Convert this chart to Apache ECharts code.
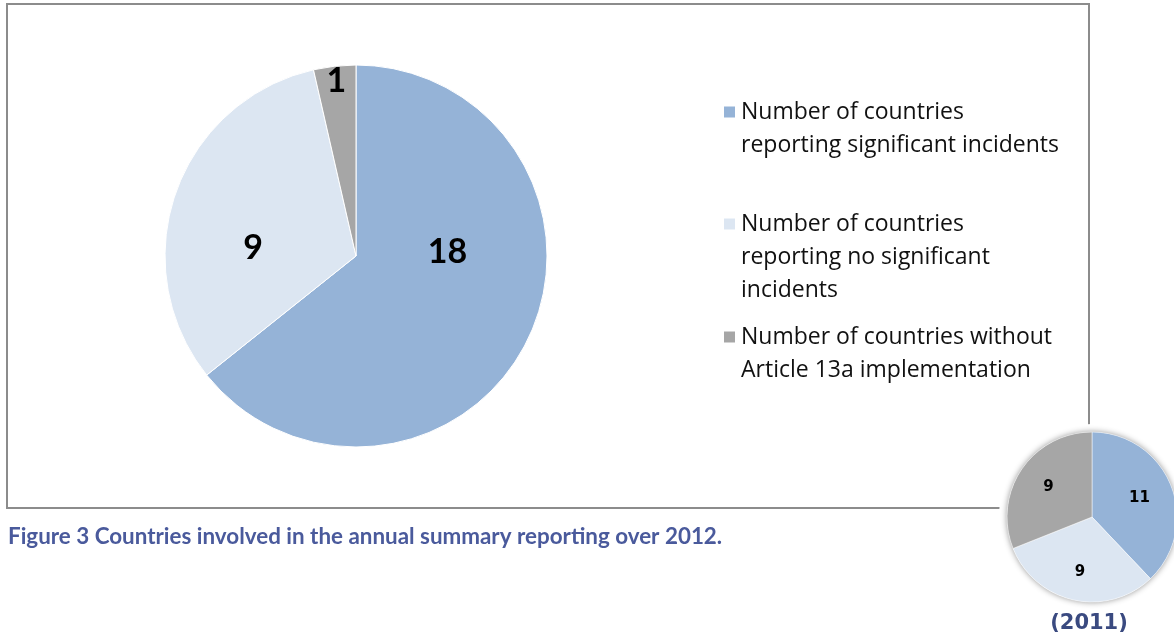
<!DOCTYPE html>
<html>
<head>
<meta charset="utf-8">
<title>Countries involved in the annual summary reporting</title>
<script src="https://cdn.jsdelivr.net/npm/echarts@6/dist/echarts.min.js"></script>
<style>
  html, body { margin: 0; padding: 0; background: #ffffff; }
  #chart { width: 1174px; height: 635px; }
</style>
</head>
<body>
<div id="chart"></div>
<script>
// Categories (legend entries, wrapped the way they are printed)
const categories = [
  'Number of countries\nreporting significant incidents',
  'Number of countries\nreporting no significant\nincidents',
  'Number of countries without\nArticle 13a implementation'
];
// Country counts, reporting year 2012
const values2012 = [18, 9, 1];
// Country counts, reporting year 2011
const values2011 = [11, 9, 9];

const captionText = 'Figure 3 Countries involved in the annual summary reporting over 2012.';
const insetTitle = '(2011)';

// Slice colours
const sliceColors = ['#95B3D7', '#DCE6F2', '#A6A6A6'];

// Layout
const MAIN_CENTER = [356, 256];
const MAIN_RADIUS = 191;
const INSET_CENTER = [1092, 517];
const INSET_RADIUS = 85;

// Label anchors for the large pie: angle measured clockwise from 12 o'clock
// (null = the slice's own mid angle) and distance as a fraction of the radius.
const mainLabelSpots = [
  { angle: 87.5, dist: 0.48 },
  { angle: 274.5, dist: 0.54 },
  { angle: null, dist: 0.92 }
];
const insetLabelDist = [0.6, 0.66, 0.62];

function midAngles(vals) {
  const total = vals.reduce((a, b) => a + b, 0);
  let acc = 0;
  return vals.map(v => {
    const m = (acc + v / 2) / total * 360;
    acc += v;
    return m;
  });
}

function spot(center, radius, angleDeg, dist) {
  const a = angleDeg * Math.PI / 180;
  return {
    x: center[0] + Math.sin(a) * radius * dist,
    y: center[1] - Math.cos(a) * radius * dist
  };
}

const mainMids = midAngles(values2012);
const insetMids = midAngles(values2011);

const LEGEND_FONT = 23;
const LEGEND_LINE = 33;
const legendFirstLine = [112, 224, 337];

// One legend block per entry so the swatch sits beside the first text line:
// the text is padded with blank lines above so its first line centres on the swatch.
const legends = categories.map((name, i) => {
  const n = name.split('\n').length;
  return {
    data: [name],
    orient: 'vertical',
    left: 722,
    top: legendFirstLine[i] - (2 * n - 1) * LEGEND_LINE / 2,
    padding: 0,
    itemWidth: 13,
    itemHeight: 13,
    icon: 'rect',
    selectedMode: false,
    formatter: function (txt) {
      return ' \n'.repeat(n - 1) + txt;
    },
    textStyle: {
      fontFamily: 'Open Sans',
      fontSize: LEGEND_FONT,
      lineHeight: LEGEND_LINE,
      color: '#111111'
    }
  };
});

const chart = echarts.init(document.getElementById('chart'), null, { renderer: 'canvas' });

chart.setOption({
  animation: false,
  color: sliceColors,
  title: [
    {
      text: captionText,
      left: 8,
      top: 526,
      padding: 0,
      textStyle: { fontFamily: 'Lato', fontWeight: 'bold', fontSize: 22.4, color: '#4A5A9C' }
    },
    {
      text: insetTitle,
      left: 1089,
      top: 613,
      padding: 0,
      textAlign: 'center',
      textStyle: { fontFamily: 'DejaVu Sans', fontWeight: 'bold', fontSize: 21, color: '#3A4A80' }
    }
  ],
  legend: legends,
  graphic: [
    {
      type: 'rect',
      z: 0,
      silent: true,
      shape: { x: 7, y: 4, width: 1082, height: 504 },
      style: { fill: 'none', stroke: '#8C8C8C', lineWidth: 2 }
    },
    {
      type: 'circle',
      z: 1,
      silent: true,
      shape: { cx: INSET_CENTER[0], cy: INSET_CENTER[1], r: INSET_RADIUS + 8 },
      style: { fill: '#ffffff' }
    },
    {
      type: 'circle',
      z: 1,
      silent: true,
      shape: { cx: INSET_CENTER[0], cy: INSET_CENTER[1], r: INSET_RADIUS },
      style: { fill: '#ffffff', shadowBlur: 6, shadowColor: 'rgba(0,0,0,0.45)' }
    }
  ],
  series: [
    {
      name: '2012',
      type: 'pie',
      z: 3,
      center: MAIN_CENTER,
      radius: [0, MAIN_RADIUS],
      startAngle: 90,
      clockwise: true,
      silent: true,
      itemStyle: { borderColor: '#ffffff', borderWidth: 1 },
      label: {
        show: true,
        position: 'inside',
        formatter: '{c}',
        fontFamily: 'Lato',
        fontWeight: 'bold',
        fontSize: 34,
        color: '#000000'
      },
      labelLine: { show: false },
      labelLayout: function (p) {
        const s = mainLabelSpots[p.dataIndex];
        const ang = s.angle === null ? mainMids[p.dataIndex] : s.angle;
        const pt = spot(MAIN_CENTER, MAIN_RADIUS, ang, s.dist);
        return { x: pt.x, y: pt.y, align: 'center', verticalAlign: 'middle' };
      },
      data: categories.map((name, i) => ({ name: name, value: values2012[i] }))
    },
    {
      name: '2011',
      type: 'pie',
      z: 3,
      center: INSET_CENTER,
      radius: [0, INSET_RADIUS],
      startAngle: 90,
      clockwise: true,
      silent: true,
      itemStyle: { borderColor: '#ffffff', borderWidth: 0.5 },
      label: {
        show: true,
        position: 'inside',
        formatter: '{c}',
        fontFamily: 'DejaVu Sans',
        fontWeight: 'bold',
        fontSize: 15,
        color: '#000000'
      },
      labelLine: { show: false },
      labelLayout: function (p) {
        const pt = spot(INSET_CENTER, INSET_RADIUS, insetMids[p.dataIndex], insetLabelDist[p.dataIndex]);
        return { x: pt.x, y: pt.y, align: 'center', verticalAlign: 'middle' };
      },
      data: categories.map((name, i) => ({ name: name, value: values2011[i] }))
    }
  ]
});
</script>
</body>
</html>
